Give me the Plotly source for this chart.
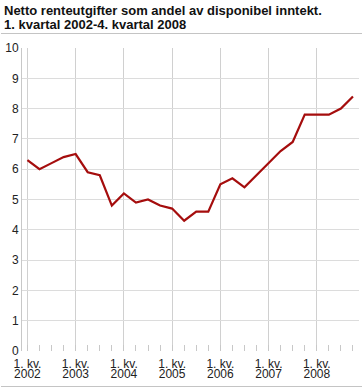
import plotly.graph_objects as go

years = ["2002", "2003", "2004", "2005", "2006", "2007", "2008"]
quarters = [f"{q}. kv. {y}" for y in years for q in range(1, 5)]
values = [6.3, 6.0, 6.2, 6.4,
          6.5, 5.9, 5.8, 4.8,
          5.2, 4.9, 5.0, 4.8,
          4.7, 4.3, 4.6, 4.6,
          5.5, 5.7, 5.4, 5.8,
          6.2, 6.6, 6.9, 7.8,
          7.8, 7.8, 8.0, 8.4]
tick_quarter = "1. kv."
y_ticks = list(range(0, 11))
title_lines = ["Netto renteutgifter som andel av disponibel inntekt.",
               "1. kvartal 2002-4. kvartal 2008"]

x = list(range(len(quarters)))
year_pos = [i * 4 for i in range(len(years))]
XR = [-0.45, 27.5]

W, H = 363, 389
L, R, T, B = 22, 4, 48, 38
RULES_Y = [33.5, 386.5]   # separator rules (page pixels)


def px(xp):
    return xp / W


def py(yp):
    return 1 - yp / H


XD = [px(L), px(W - R)]
YD = [py(H - B), py(T)]

fig = go.Figure()
fig.add_trace(go.Scatter(
    x=x, y=values, mode="lines",
    line=dict(color="#a50d0d", width=2.2),
    text=quarters, hoverinfo="text+y",
))
# invisible helper trace so the second x axis is drawn
fig.add_trace(go.Scatter(x=[XR[0]], y=[None], xaxis="x2", yaxis="y",
                         mode="markers", hoverinfo="skip", showlegend=False))

# separator rules drawn on a full-page helper subplot
rx, ry = [], []
for yl in RULES_Y:
    rx += [1, W - 1, None]
    ry += [yl, yl, None]
fig.add_trace(go.Scatter(x=rx, y=ry, xaxis="x3", yaxis="y3", mode="lines",
                         line=dict(color="#c4c4c4", width=1),
                         hoverinfo="skip", showlegend=False, cliponaxis=False))

annotations = []
for i, t in enumerate(title_lines):
    annotations.append(dict(
        text=f"<b>{t}</b>", xref="paper", yref="paper",
        x=px(2), y=py(14 * i + 1), xanchor="left", yanchor="top",
        showarrow=False, font=dict(size=13, color="#111"),
    ))

fig.update_layout(
    width=W, height=H,
    margin=dict(l=0, r=0, t=0, b=0, pad=0),
    paper_bgcolor="white", plot_bgcolor="rgba(0,0,0,0)",
    showlegend=False,
    font=dict(family="Liberation Sans, Arial, sans-serif", size=12, color="#222"),
    annotations=annotations,
    xaxis=dict(
        domain=XD, range=XR, automargin=False,
        tickvals=year_pos,
        ticktext=[tick_quarter] * len(years),
        showgrid=True, gridcolor="#d0d0d0", gridwidth=1,
        zeroline=False, showline=False,
        ticks="", ticklen=0, ticklabelstandoff=4,
        minor=dict(dtick=1, tick0=0, ticks="inside", ticklen=6,
                   tickcolor="#c8c8c8", tickwidth=1, showgrid=False),
        tickfont=dict(size=12, color="#222"),
    ),
    xaxis2=dict(
        domain=XD, range=XR, overlaying="x", anchor="y", side="bottom",
        automargin=False,
        tickvals=year_pos, ticktext=years,
        showgrid=False, zeroline=False, showline=False,
        ticks="", ticklen=0, ticklabelstandoff=14,
        tickfont=dict(size=12, color="#222"),
    ),
    yaxis=dict(
        domain=YD, range=[0, 10], automargin=False,
        tickvals=y_ticks,
        showgrid=True, gridcolor="#dcdcdc", gridwidth=1,
        zeroline=False, showline=True, linecolor="#c8c8c8", linewidth=1,
        ticks="", ticklen=0,
        tickfont=dict(size=12, color="#222"),
    ),
    xaxis3=dict(domain=[0, 1], range=[0, W], anchor="y3", visible=False,
                fixedrange=True, automargin=False),
    yaxis3=dict(domain=[0, 1], range=[H, 0], anchor="x3", visible=False,
                fixedrange=True, automargin=False),
)

fig.write_html("out.html", config={"displayModeBar": False},
               post_script="document.body.style.margin='0';document.body.style.padding='0';")
